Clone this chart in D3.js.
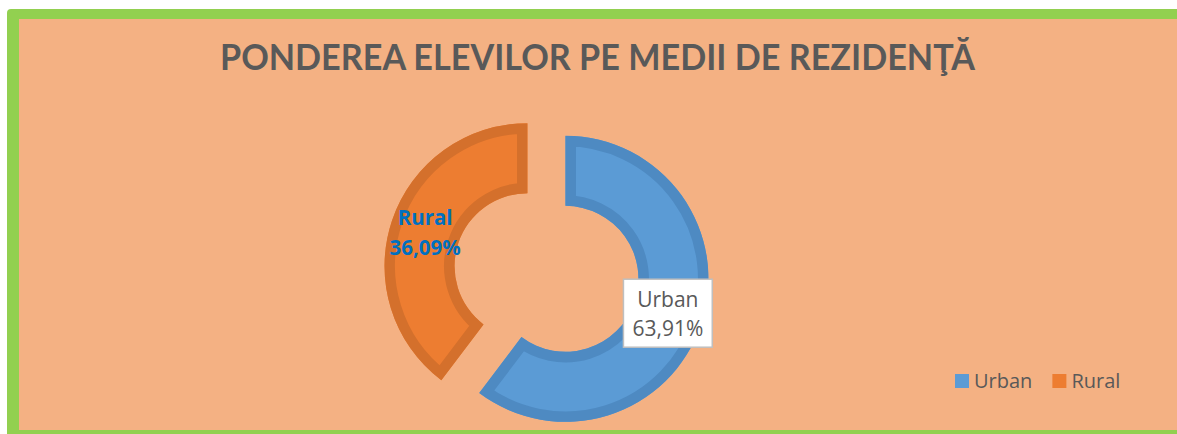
<!DOCTYPE html>
<html>
<head>
<meta charset="utf-8">
<script src="https://cdn.jsdelivr.net/npm/d3@7"></script>
<style>
  body { margin: 0; background: #fff; }
  svg { display: block; }
</style>
</head>
<body>
<div id="container"></div>
<script>
// Data
const categories = ["Urban", "Rural"];
const shares = [60.3, 39.7]; // slice sizes as drawn in the picture
const labelText = ["63,91%", "36,09%"]; // printed data labels
const chartTitle = "PONDEREA ELEVILOR PE MEDII DE REZIDENŢĂ";

// Dimensions
const width = 1177;
const height = 434;
const cx = 546.5;
const cy = 272.5;
const outerR = 143;
const innerR = 73;
const explode = 20;

const fill = d3.scaleOrdinal().domain(categories).range(["#5B9BD5", "#ED7D31"]);
const edge = d3.scaleOrdinal().domain(categories).range(["#4E8AC2", "#D4702C"]);

const svg = d3.create("svg").attr("width", width).attr("height", height);
document.getElementById("container").appendChild(svg.node());

// Green frame and peach chart area
svg.append("rect")
  .attr("x", 7).attr("y", 9)
  .attr("width", 1220).attr("height", 460)
  .attr("rx", 4)
  .attr("fill", "#92D050");
svg.append("rect")
  .attr("x", 19).attr("y", 19)
  .attr("width", 1200).attr("height", 411)
  .attr("fill", "#F4B183");

// Title
svg.append("text")
  .attr("x", 597.5)
  .attr("y", 70)
  .attr("text-anchor", "middle")
  .attr("font-family", "Lato, 'Open Sans', sans-serif")
  .attr("font-weight", "bold")
  .attr("font-size", 37)
  .attr("fill", "#595959")
  .attr("textLength", 755)
  .attr("lengthAdjust", "spacingAndGlyphs")
  .text(chartTitle);

// Doughnut
const data = categories.map((c, i) => ({ name: c, value: shares[i], label: labelText[i] }));
const pie = d3.pie().sort(null).value(d => d.value);
const arc = d3.arc().innerRadius(innerR).outerRadius(outerR);
const arcs = pie(data);

const defs = svg.append("defs");
const chart = svg.append("g").attr("transform", `translate(${cx},${cy})`);

const slices = chart.selectAll("g.slice")
  .data(arcs)
  .enter()
  .append("g")
  .attr("class", "slice")
  .attr("transform", d => {
    const mid = (d.startAngle + d.endAngle) / 2;
    return `translate(${Math.sin(mid) * explode},${-Math.cos(mid) * explode})`;
  });

arcs.forEach((d, i) => {
  defs.append("clipPath").attr("id", "clip" + i).append("path").attr("d", arc(d));
});

slices.append("path")
  .attr("d", arc)
  .attr("fill", d => fill(d.data.name));

// border drawn inside the slice
slices.append("path")
  .attr("d", arc)
  .attr("fill", "none")
  .attr("stroke", d => edge(d.data.name))
  .attr("stroke-width", 21)
  .attr("clip-path", (d, i) => `url(#clip${i})`);

// Data labels
slices.each(function (d, i) {
  const g = d3.select(this);
  const [lx, ly] = arc.centroid(d);
  const lab = g.append("g");
  const txt = lab.append("text")
    .attr("text-anchor", "middle")
    .attr("font-family", "'Open Sans', sans-serif")
    .attr("font-size", i === 0 ? 21 : 20.5)
    .attr("font-weight", i === 0 ? "normal" : "bold")
    .attr("fill", i === 0 ? "#595959" : "#0070C0");
  txt.append("tspan").attr("x", lx).attr("y", ly - 6.5).text(d.data.name);
  txt.append("tspan").attr("x", lx).attr("y", ly + 23).text(d.data.label);
  if (i === 0) {
    const bb = txt.node().getBBox();
    lab.insert("rect", "text")
      .attr("x", bb.x - 9)
      .attr("y", ly - 34)
      .attr("width", bb.width + 18)
      .attr("height", 68)
      .attr("fill", "#fff")
      .attr("stroke", "#BFBFBF")
      .attr("stroke-width", 1.5);
  }
});

// Legend
const legend = svg.append("g").attr("transform", "translate(955,374)");
let lxPos = 0;
categories.forEach(c => {
  const item = legend.append("g").attr("transform", `translate(${lxPos},0)`);
  item.append("rect").attr("width", 14).attr("height", 14).attr("fill", fill(c));
  const t = item.append("text")
    .attr("x", 19)
    .attr("y", 14)
    .attr("font-family", "'Open Sans', sans-serif")
    .attr("font-size", 20)
    .attr("fill", "#595959")
    .text(c);
  lxPos += 19 + t.node().getComputedTextLength() + 20;
});
</script>
</body>
</html>
